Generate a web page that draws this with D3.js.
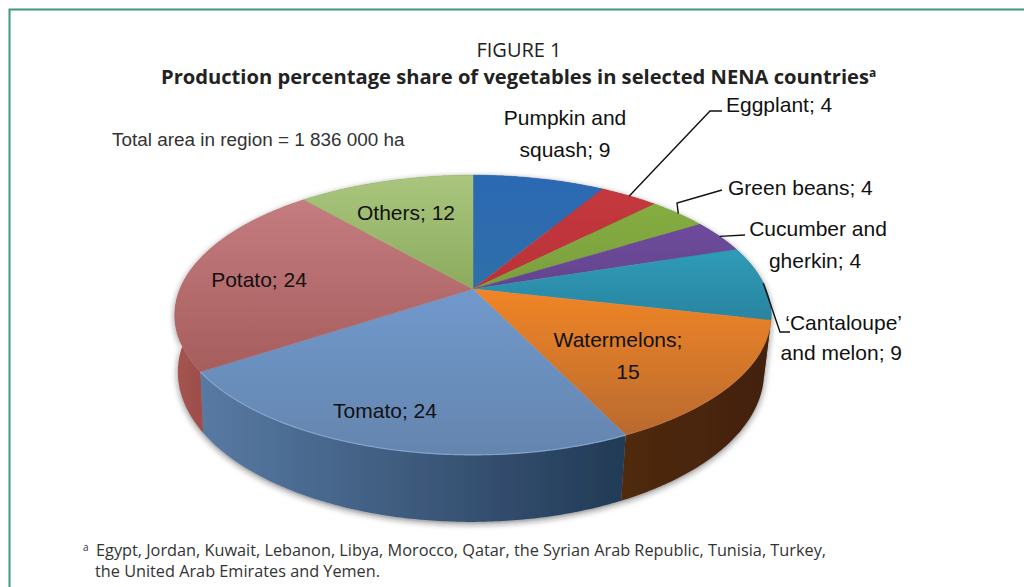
<!DOCTYPE html>
<html><head><meta charset="utf-8">
<script src="https://cdn.jsdelivr.net/npm/d3@7"></script>
<style>
html,body{margin:0;padding:0;background:#fff}
svg{display:block}
.lab{font-family:"Liberation Sans",Arial,sans-serif;font-size:21px;fill:#111}
.t{font-family:"Open Sans","Noto Sans",sans-serif}
</style></head><body>
<svg id="c" width="1024" height="587"></svg>
<script>
const categories = ["Pumpkin and squash","Eggplant","Green beans","Cucumber and gherkin","'Cantaloupe' and melon","Watermelons","Tomato","Potato","Others"];
const values = [9,4,4,4,9,15,24,24,12];
const topColors = [["#2c69b3","#2f6fa9"],["#c4383d","#b93238"],["#86ad42","#789f3c"],["#6e4b9c","#63438e"],["#2f9cb8","#2a84a0"],["#f08526","#b96a30"],["#7199cd","#6485ae"],["#c57c80","#a65d5c"],["#aac67e","#8cab5e"]];
const wallStops = [["#1f4a80","#1f4a80"],["#7a2020","#7a2020"],["#55702a","#55702a"],["#44305f","#44305f"],["#1c6072","#5a3414"],["#4f2a0c","#42210a"],["#587aa3","#223a56"],["#a5544f","#7d3c38"],["#62783f","#62783f"]];
const labels = [
 {i:0,lines:["Pumpkin and","squash; 9"],ax:"middle",dx:[565,565],y:[125,157]},
 {i:1,lines:["Eggplant; 4"],ax:"start",dx:[726],y:[112],lead:[[710,111],[722,111]]},
 {i:2,lines:["Green beans; 4"],ax:"start",dx:[728],y:[195],lead:[[677,203],[722,190]]},
 {i:3,lines:["Cucumber and","gherkin; 4"],ax:"middle",dx:[818,815],y:[236,268],lead:[[745,235]]},
 {i:4,lines:["\u2018Cantaloupe\u2019","and melon; 9"],ax:"end",dx:[902,902],y:[330,360],lead:[[780,332],[790,332]]},
 {i:5,lines:["Watermelons;","15"],ax:"middle",dx:[618,628],y:[347,379]},
 {i:6,lines:["Tomato; 24"],ax:"middle",dx:[385],y:[418]},
 {i:7,lines:["Potato; 24"],ax:"middle",dx:[259],y:[287]},
 {i:8,lines:["Others; 12"],ax:"middle",dx:[406],y:[220]}
];
const titleText = "Production percentage share of vegetables in selected NENA countries";
const noteLines = ["Egypt, Jordan, Kuwait, Lebanon, Libya, Morocco, Qatar, the Syrian Arab Republic, Tunisia, Turkey,","the United Arab Emirates and Yemen."];

const svg = d3.select("#c");
const defs = svg.append("defs");
const k = 0.186;
const rimTop = {cx:473,cy:289,B:293,A:135};
const rimBot = {cx:471,cy:344,B:288,A:144.8};
const proj = (r,a)=>{const u=Math.sin(a),v=-Math.cos(a),w=1-k*v;return [r.cx+r.B*u/w,r.cy+r.A*v/w];};
const arcs = d3.pie().sort(null).value(d=>d)(values);
const samples = d=>{const n=Math.max(2,Math.ceil((d.endAngle-d.startAngle)/0.01));return d3.range(n+1).map(j=>d.startAngle+(d.endAngle-d.startAngle)*j/n);};
const line = d3.line();

const f = defs.append("filter").attr("id","shadow").attr("x","-10%").attr("y","-10%").attr("width","120%").attr("height","125%");
f.append("feDropShadow").attr("dx",0).attr("dy",2).attr("stdDeviation",3).attr("flood-color","#222").attr("flood-opacity",.55);
const soft = defs.append("filter").attr("id","soft");
soft.append("feGaussianBlur").attr("stdDeviation",.5);

arcs.forEach((d,i)=>{
  const g=defs.append("linearGradient").attr("id","top"+i).attr("gradientUnits","userSpaceOnUse").attr("x1",0).attr("x2",0);
  const ps=samples(d).map(a=>proj(rimTop,a)).concat([[rimTop.cx,rimTop.cy]]);
  const [y0,y1]=d3.extent(ps,p=>p[1]);
  g.attr("y1",y0).attr("y2",y1);
  g.append("stop").attr("offset",0).attr("stop-color",topColors[i][0]);
  g.append("stop").attr("offset",1).attr("stop-color",topColors[i][1]);
  const w=defs.append("linearGradient").attr("id","wall"+i).attr("gradientUnits","userSpaceOnUse").attr("y1",0).attr("y2",0);
  const [x0,x1]=d3.extent(ps.slice(0,-1),p=>p[0]);
  w.attr("x1",x0).attr("x2",x1);
  w.append("stop").attr("offset",0).attr("stop-color",wallStops[i][0]);
  w.append("stop").attr("offset",1).attr("stop-color",wallStops[i][1]);
});

// frame
svg.append("path").attr("d","M9.5,587V9.5H1024").attr("fill","none").attr("stroke","#3f9682").attr("stroke-width",2);

const pie = svg.append("g");
const walls = pie.append("g").attr("filter","url(#shadow)");
walls.selectAll("path").data(arcs).join("path")
 .attr("d",d=>{const a=samples(d);return line(a.map(x=>proj(rimTop,x)).concat(a.slice().reverse().map(x=>proj(rimBot,x))))+"Z";})
 .attr("fill",(d,i)=>`url(#wall${i})`);
const tops = pie.append("g").attr("filter","url(#soft)");
tops.selectAll("path").data(arcs).join("path")
 .attr("d",d=>line([[rimTop.cx,rimTop.cy]].concat(samples(d).map(x=>proj(rimTop,x))))+"Z")
 .attr("fill",(d,i)=>`url(#top${i})`).attr("stroke",(d,i)=>`url(#top${i})`).attr("stroke-width",.5);
pie.append("path").datum(arcs[6])
 .attr("d",d=>line(samples(d).map(x=>proj(rimTop,x))))
 .attr("fill","none").attr("stroke","#8aa9d3").attr("stroke-width",1.2).attr("opacity",.8);

svg.append("g").selectAll("path").data(labels.filter(l=>l.lead)).join("path")
 .attr("d",l=>{const d=arcs[l.i];return line([proj(rimTop,(d.startAngle+d.endAngle)/2)].concat(l.lead));})
 .attr("fill","none").attr("stroke","#111").attr("stroke-width",1.4);

labels.forEach(l=>l.lines.forEach((s,j)=>{
  svg.append("text").attr("class","lab").attr("x",l.dx[j]).attr("y",l.y[j]).attr("text-anchor",l.ax).text(s);
}));

svg.append("text").attr("class","lab").attr("x",112).attr("y",146).style("font-size","18.9px").style("fill","#333").text("Total area in region = 1 836 000 ha");
svg.append("text").attr("class","t").attr("x",519).attr("y",57).attr("text-anchor","middle").style("font-size","20px").style("fill","#222").text("FIGURE 1");
svg.append("text").attr("class","t").attr("x",161).attr("y",84).attr("textLength",708).attr("lengthAdjust","spacingAndGlyphs").style("font-size","19.5px").style("font-weight","700").style("fill","#222").text(titleText);
svg.append("text").attr("class","t").attr("x",869).attr("y",77).style("font-size","12px").style("font-weight","700").style("fill","#222").text("a");
svg.append("text").attr("class","t").attr("x",83).attr("y",551).style("font-size","10px").style("fill","#333").text("a");
svg.append("text").attr("class","t").attr("x",96).attr("y",556).attr("textLength",730).attr("lengthAdjust","spacingAndGlyphs").style("font-size","15.5px").style("fill","#333").text(noteLines[0]);
svg.append("text").attr("class","t").attr("x",95).attr("y",577).attr("textLength",285).attr("lengthAdjust","spacingAndGlyphs").style("font-size","15.5px").style("fill","#333").text(noteLines[1]);
</script></body></html>
